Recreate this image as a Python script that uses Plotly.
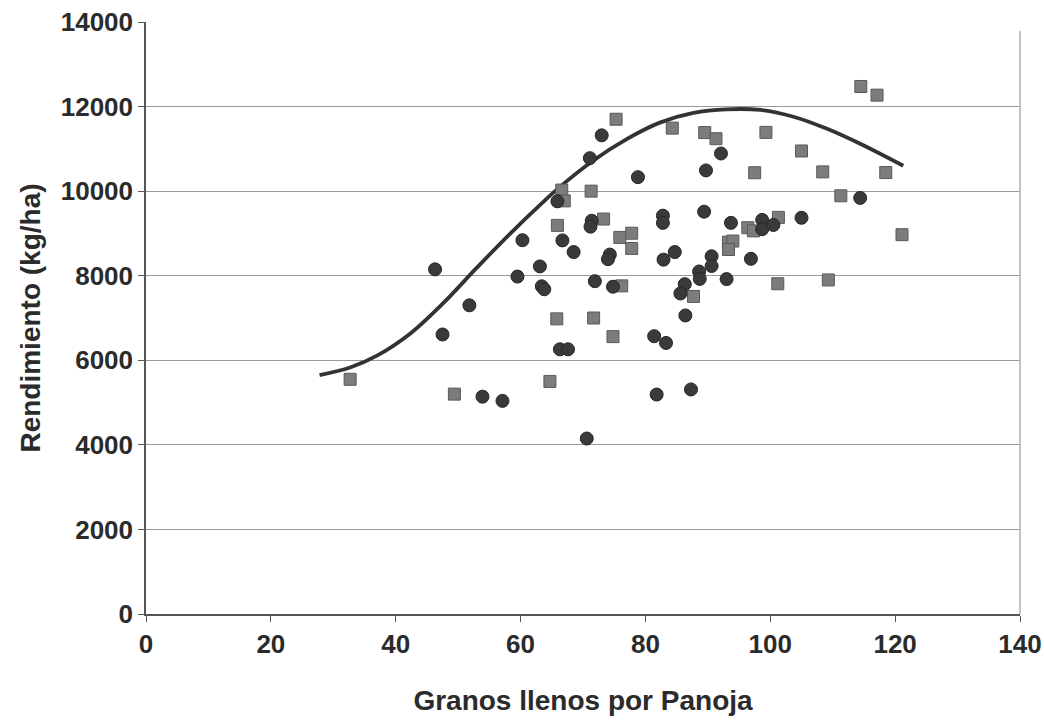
import plotly.graph_objects as go

# Circles (series 1)
circ_x = [46.3, 47.5, 51.8, 53.9, 57.1, 59.5, 60.3, 63.1, 63.4, 63.8, 65.9, 66.7, 68.5,
          66.3, 67.6, 70.6, 71.1, 73.0, 71.4, 71.2, 71.9, 74.3, 74.0, 74.8, 78.8,
          81.4, 83.3, 81.8, 82.8, 82.8, 82.9, 84.7, 86.3, 85.6, 86.4, 87.3, 88.6,
          88.7, 89.7, 89.4, 90.6, 90.6, 92.1, 93.0, 93.7, 96.9, 98.7, 98.7, 100.5,
          105.0, 114.4]
circ_y = [8150, 6610, 7300, 5140, 5040, 7980, 8840, 8220, 7750, 7680, 9760, 8835, 8560,
          6260, 6260, 4150, 10780, 11320, 9300, 9160, 7870, 8500, 8390, 7740, 10330,
          6570, 6410, 5190, 9420, 9250, 8380, 8560, 7800, 7580, 7060, 5310, 8100,
          7925, 10490, 9515, 8460, 8230, 10890, 7920, 9250, 8400, 9320, 9100, 9200,
          9370, 9840]

# Squares (series 2)
sq_x = [32.7, 49.4, 64.7, 65.8, 65.9, 66.6, 67.0, 71.3, 71.7, 73.3, 74.8, 75.3,
        75.9, 77.8, 77.8, 76.2, 84.3, 87.7, 89.5, 91.3, 93.3, 94.0, 93.3, 96.4,
        97.3, 97.5, 99.3, 101.3, 101.2, 105.0, 108.4, 109.3, 111.3, 114.5, 117.1,
        118.5, 121.1]
sq_y = [5550, 5200, 5500, 6980, 9190, 10025, 9770, 10000, 7000, 9340, 6560, 11700,
        8905, 9005, 8645, 7760, 11490, 7510, 11385, 11240, 8795, 8820, 8620, 9135,
        9060, 10435, 11390, 9380, 7810, 10950, 10455, 7900, 9890, 12475, 12270,
        10440, 8970]

# Fitted curve
curve_x = [27.8, 32.7, 37.0, 42.3, 47.6, 53.0, 58.3, 63.6, 66.3, 71.6, 77.0, 82.3,
           87.7, 93.0, 98.4, 103.7, 109.0, 114.4, 121.3]
curve_y = [5650, 5830, 6110, 6630, 7350, 8190, 8990, 9740, 10100, 10720, 11230, 11620,
           11850, 11935, 11920, 11760, 11480, 11120, 10600]

x_ticks = [0, 20, 40, 60, 80, 100, 120, 140]
y_ticks = [0, 2000, 4000, 6000, 8000, 10000, 12000, 14000]

FONT = "Liberation Sans, Arial, sans-serif"
TXT = "#2b2b2b"

fig = go.Figure()
fig.add_trace(go.Scatter(
    x=curve_x, y=curve_y, mode="lines", line=dict(color="#333333", width=3.8, shape="spline"),
    showlegend=False, hoverinfo="skip"))
fig.add_trace(go.Scatter(
    x=sq_x, y=sq_y, mode="markers",
    marker=dict(symbol="square", size=12, color="#7c7c7c", line=dict(color="#5a5a5a", width=1)),
    showlegend=False))
fig.add_trace(go.Scatter(
    x=circ_x, y=circ_y, mode="markers",
    marker=dict(symbol="circle", size=13, color="#3a3a3a", line=dict(color="#262626", width=1)),
    showlegend=False))

fig.update_layout(
    width=1044, height=724,
    margin=dict(l=146, r=24, t=22, b=110),
    paper_bgcolor="white", plot_bgcolor="white",
    font=dict(family=FONT, color=TXT),
    xaxis=dict(
        range=[0, 140], tickvals=x_ticks, ticktext=[str(v) for v in x_ticks],
        automargin=False,
        showgrid=False, zeroline=False,
        showline=True, linecolor="#555555", linewidth=1.5,
        ticks="outside", ticklen=6, tickcolor="#555555",
        tickfont=dict(size=26, family=FONT, weight="bold", color=TXT),
        title=dict(text="Granos llenos por Panoja", standoff=32,
                   font=dict(size=28, family=FONT, weight="bold", color=TXT)),
    ),
    yaxis=dict(
        range=[0, 14000], tickvals=y_ticks, ticktext=[str(v) for v in y_ticks],
        automargin=False,
        showgrid=True, gridcolor="#9a9a9a", gridwidth=1, zeroline=False,
        showline=True, linecolor="#555555", linewidth=1.5,
        ticks="outside", ticklen=6, tickcolor="#555555",
        tickfont=dict(size=26, family=FONT, weight="bold", color=TXT),
        title=dict(text="Rendimiento (kg/ha)", standoff=12,
                   font=dict(size=28, family=FONT, weight="bold", color=TXT)),
    ),
    shapes=[dict(type="line", xref="paper", yref="paper", x0=1, x1=1, y0=0, y1=0.985,
                 line=dict(color="#b0b0b0", width=1.5))],
)

fig.write_html("out.html")
